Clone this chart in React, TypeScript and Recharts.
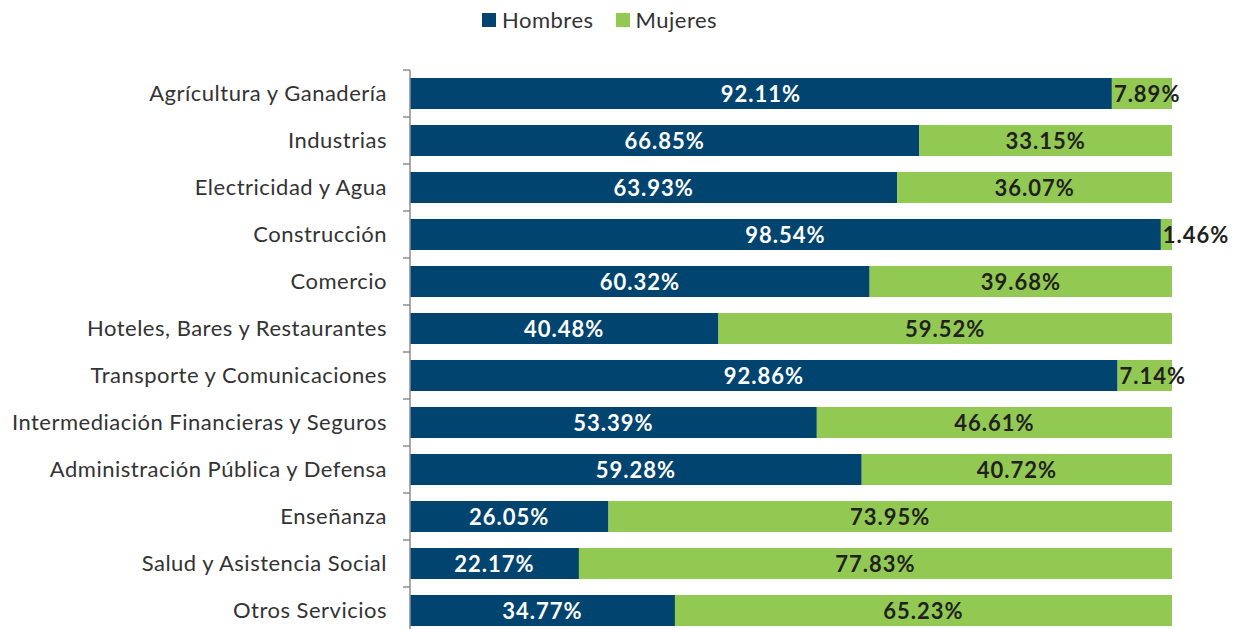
import React from 'react';
import { BarChart, Bar, XAxis, YAxis, LabelList } from 'recharts';

const sectores = [
  'Agrícultura y Ganadería',
  'Industrias',
  'Electricidad y Agua',
  'Construcción',
  'Comercio',
  'Hoteles, Bares y Restaurantes',
  'Transporte y Comunicaciones',
  'Intermediación Financieras y Seguros',
  'Administración Pública y Defensa',
  'Enseñanza',
  'Salud y Asistencia Social',
  'Otros Servicios',
];
const hombres = [92.11, 66.85, 63.93, 98.54, 60.32, 40.48, 92.86, 53.39, 59.28, 26.05, 22.17, 34.77];
const mujeres = [7.89, 33.15, 36.07, 1.46, 39.68, 59.52, 7.14, 46.61, 40.72, 73.95, 77.83, 65.23];

const data = sectores.map((name, i) => ({ name, hombres: hombres[i], mujeres: mujeres[i] }));

const NAVY = '#00446f';
const GREEN = '#92c953';
const FONT = 'Lato, "Noto Sans", sans-serif';

const fmt = (v: number) => `${v.toFixed(2)}%`;

const CategoryTick = (props: any) => {
  const { x, y, payload } = props;
  const half = payload.offset || 23.5;
  return (
    <g>
      <line x1={x - 7} x2={x} y1={y - half} y2={y - half} stroke="#8c8c8c" strokeWidth={1.5} />
      <text x={x - 23} y={y} dy={7} textAnchor="end" fill="#333333" fontSize={22} letterSpacing={0.5} fontFamily={FONT}>
        {payload.value}
      </text>
    </g>
  );
};

const HombresLabel = (props: any) => {
  const { x, y, width, height, value } = props;
  return (
    <text x={x + width / 2} y={y + height / 2} dy={8} textAnchor="middle" fill="#ffffff" fontSize={22} letterSpacing={1} fontWeight={700} fontFamily={FONT}>
      {fmt(value)}
    </text>
  );
};

const MujeresLabel = (props: any) => {
  const { x, y, width, height, value } = props;
  const narrow = width < 90;
  return (
    <text
      x={narrow ? x + 2 : x + width / 2}
      y={y + height / 2}
      dy={8}
      textAnchor={narrow ? 'start' : 'middle'}
      fill="#231f20"
      fontSize={22}
      letterSpacing={1}
      fontWeight={700}
      fontFamily={FONT}
    >
      {fmt(value)}
    </text>
  );
};

const LegendBox = () => (
  <div
    style={{
      position: 'absolute',
      left: 482,
      top: 7,
      display: 'flex',
      gap: 22,
      fontFamily: FONT,
      fontSize: 22,
      letterSpacing: 0.5,
      color: '#333333',
      alignItems: 'center',
      lineHeight: '26px',
    }}
  >
    <span style={{ display: 'flex', alignItems: 'center' }}>
      <span style={{ width: 14, height: 14, background: NAVY, marginRight: 6, display: 'inline-block' }} />
      Hombres
    </span>
    <span style={{ display: 'flex', alignItems: 'center' }}>
      <span style={{ width: 14, height: 14, background: GREEN, marginRight: 6, display: 'inline-block' }} />
      Mujeres
    </span>
  </div>
);

export default function App() {
  return (
    <div style={{ position: 'absolute', left: 0, top: 0, width: 1244, height: 629, overflow: 'hidden', background: '#fff' }}>
      <LegendBox />
      <BarChart
        width={1244}
        height={640}
        data={data}
        layout="vertical"
        margin={{ top: 70, right: 72, bottom: 6, left: 0 }}
        barSize={31}
      >
        <XAxis type="number" domain={[0, 100]} hide />
        <YAxis
          type="category"
          dataKey="name"
          width={410}
          axisLine={{ stroke: '#8c8c8c', strokeWidth: 1.5 }}
          tickLine={false}
          tickSize={0}
          tickMargin={0}
          tick={<CategoryTick />}
          interval={0}
        />
        <Bar dataKey="hombres" stackId="a" fill={NAVY} isAnimationActive={false}>
          <LabelList dataKey="hombres" content={<HombresLabel />} />
        </Bar>
        <Bar dataKey="mujeres" stackId="a" fill={GREEN} isAnimationActive={false}>
          <LabelList dataKey="mujeres" content={<MujeresLabel />} />
        </Bar>
      </BarChart>
    </div>
  );
}
